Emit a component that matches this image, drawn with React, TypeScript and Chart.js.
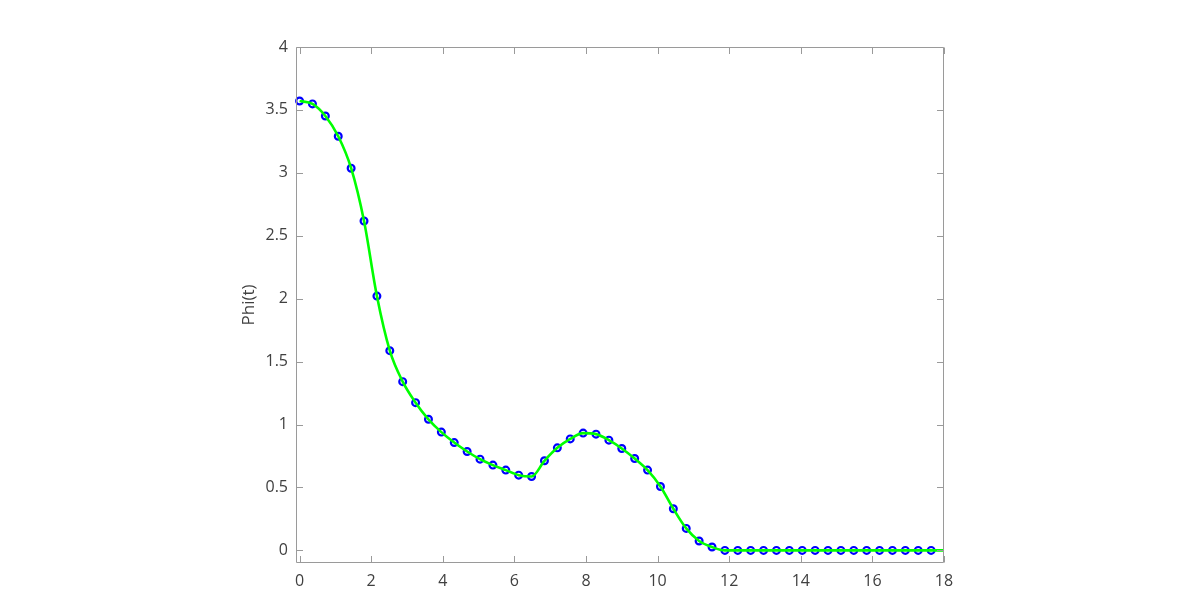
import React, { useEffect, useRef } from "react";
import { Chart, registerables } from "chart.js";

Chart.register(...registerables);

// sample times (t) of the circle markers
const tValues = [
  0, 0.36, 0.72, 1.08, 1.44, 1.8, 2.16, 2.52, 2.88, 3.24,
  3.6, 3.96, 4.32, 4.68, 5.04, 5.4, 5.76, 6.12, 6.48, 6.84,
  7.2, 7.56, 7.92, 8.28, 8.64, 9, 9.36, 9.72, 10.08, 10.44,
  10.8, 11.16, 11.52, 11.88, 12.24, 12.6, 12.96, 13.32, 13.68, 14.04,
  14.4, 14.76, 15.12, 15.48, 15.84, 16.2, 16.56, 16.92, 17.28, 17.64,
];

// Phi(t) at those times
const phiValues = [
  3.571, 3.548, 3.452, 3.291, 3.037, 2.617, 2.021, 1.587, 1.341, 1.174,
  1.042, 0.94, 0.857, 0.786, 0.725, 0.678, 0.638, 0.598, 0.587, 0.712,
  0.815, 0.886, 0.932, 0.924, 0.876, 0.81, 0.73, 0.638, 0.508, 0.331,
  0.175, 0.075, 0.027, 0, 0, 0, 0, 0, 0, 0,
  0, 0, 0, 0, 0, 0, 0, 0, 0, 0,
];

// the continuous curve runs on to the end of the axis
const curveEndT = 18;
const curveEndPhi = 0;

const xTickValues = [0, 2, 4, 6, 8, 10, 12, 14, 16, 18];
const yTickValues = [0, 0.5, 1, 1.5, 2, 2.5, 3, 3.5, 4];
const yTickLabels = ["0", "0.5", "1", "1.5", "2", "2.5", "3", "3.5", "4"];
const yAxisTitle = "Phi(t)";

const AXIS_COLOR = "#9a9a9a";
const TEXT_COLOR = "#404040";
const FONT = "'Open Sans', 'Noto Sans', sans-serif";

const framePlugin = {
  id: "matlabFrame",
  afterDraw(chart: any) {
    const { ctx, chartArea } = chart;
    const xs = chart.scales.x;
    const ys = chart.scales.y;
    const l = Math.round(chartArea.left) + 0.5;
    const r = Math.round(chartArea.right) - 0.5;
    const t = Math.round(chartArea.top) + 0.5;
    const b = Math.round(chartArea.bottom) - 0.5;
    const tick = 6.5;
    ctx.save();
    ctx.strokeStyle = AXIS_COLOR;
    ctx.lineWidth = 1;
    ctx.beginPath();
    ctx.rect(l, t, r - l, b - t);
    for (const v of xTickValues) {
      const px = Math.round(xs.getPixelForValue(v)) + 0.5;
      ctx.moveTo(px, b);
      ctx.lineTo(px, b - tick);
      ctx.moveTo(px, t);
      ctx.lineTo(px, t + tick);
    }
    for (const v of yTickValues) {
      const py = Math.round(ys.getPixelForValue(v)) + 0.5;
      ctx.moveTo(l, py);
      ctx.lineTo(l + tick, py);
      ctx.moveTo(r, py);
      ctx.lineTo(r - tick, py);
    }
    ctx.stroke();
    ctx.restore();
  },
};

export default function App() {
  const canvasRef = useRef<HTMLCanvasElement | null>(null);

  useEffect(() => {
    const canvas = canvasRef.current;
    if (!canvas) return;
    const markerPoints = tValues.map((t, i) => ({ x: t, y: phiValues[i] }));
    const curvePoints = [
      ...tValues.map((t, i) => ({ x: t, y: phiValues[i] })),
      { x: curveEndT, y: curveEndPhi },
    ];

    const chart = new Chart(canvas, {
      type: "scatter",
      data: {
        datasets: [
          {
            label: "samples",
            data: markerPoints,
            showLine: false,
            pointRadius: 3.4,
            pointBorderWidth: 2.2,
            pointBorderColor: "#0000ff",
            pointBackgroundColor: "rgba(0,0,0,0)",
            pointStyle: "circle",
            clip: false,
            order: 2,
          } as any,
          {
            label: "curve",
            data: curvePoints,
            showLine: true,
            borderColor: "#00ff00",
            borderWidth: 2.6,
            pointRadius: 0,
            cubicInterpolationMode: "monotone",
            order: 1,
          } as any,
        ],
      },
      options: {
        responsive: false,
        animation: false,
        layout: { padding: { left: 236, top: 47, right: 256, bottom: 0 } },
        plugins: {
          legend: { display: false },
          tooltip: { enabled: false },
        },
        scales: {
          x: {
            type: "linear",
            min: -0.1,
            max: 18,
            grid: { display: false, drawTicks: false },
            border: { display: false },
            afterBuildTicks: (scale: any) => {
              scale.ticks = xTickValues.map((v) => ({ value: v }));
            },
            afterFit: (scale: any) => {
              scale.height = 37;
            },
            ticks: {
              includeBounds: false,
              autoSkip: false,
              maxRotation: 0,
              padding: 9,
              color: TEXT_COLOR,
              font: { family: FONT, size: 16 },
              callback: (v: any) => String(v),
            },
          },
          y: {
            type: "linear",
            min: -0.1,
            max: 4,
            grid: { display: false, drawTicks: false },
            border: { display: false },
            afterBuildTicks: (scale: any) => {
              scale.ticks = yTickValues.map((v) => ({ value: v }));
            },
            afterFit: (scale: any) => {
              scale.width = 60;
            },
            title: {
              display: true,
              text: yAxisTitle,
              color: TEXT_COLOR,
              font: { family: FONT, size: 17 },
              padding: { top: 3, bottom: 0 },
            },
            ticks: {
              includeBounds: false,
              autoSkip: false,
              padding: 8,
              color: TEXT_COLOR,
              font: { family: FONT, size: 16 },
              callback: (v: any) => {
                const idx = yTickValues.indexOf(Number(v));
                return idx >= 0 ? yTickLabels[idx] : String(v);
              },
            },
          },
        },
      },
      plugins: [framePlugin],
    } as any);

    return () => chart.destroy();
  }, []);

  return (
    <div style={{ position: "fixed", left: 0, top: 0, width: 1200, height: 600, background: "#ffffff" }}>
      <canvas ref={canvasRef} width={1200} height={600} style={{ display: "block", width: 1200, height: 600 }} />
    </div>
  );
}
